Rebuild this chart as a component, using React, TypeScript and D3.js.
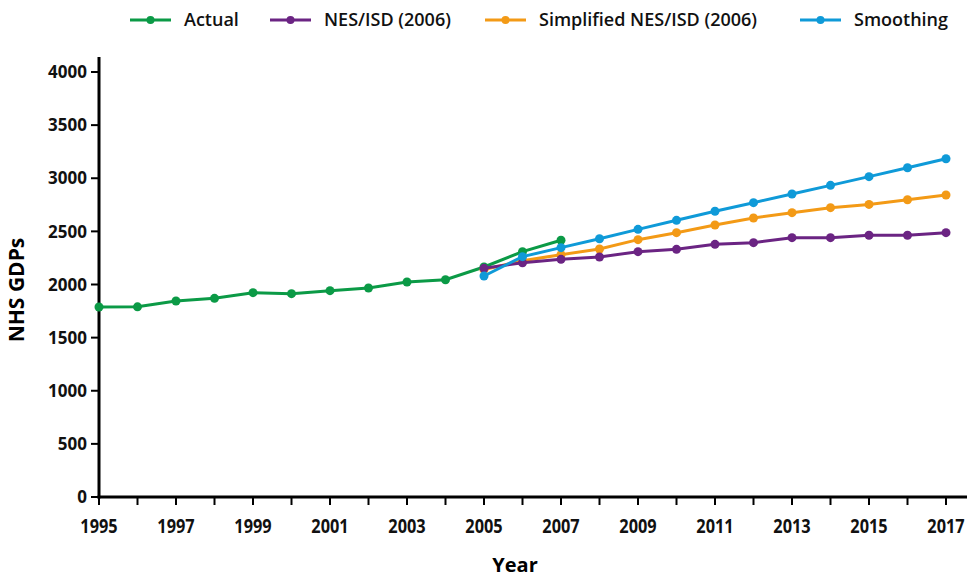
import * as d3 from 'd3'

const actualYears = [1995, 1996, 1997, 1998, 1999, 2000, 2001, 2002, 2003, 2004, 2005, 2006, 2007]
const actualValues = [1788, 1790, 1845, 1870, 1923, 1914, 1942, 1967, 2024, 2045, 2165, 2309, 2416]

const forecastYears = [2005, 2006, 2007, 2008, 2009, 2010, 2011, 2012, 2013, 2014, 2015, 2016, 2017]
const nesValues = [2152, 2205, 2237, 2259, 2309, 2331, 2378, 2394, 2441, 2441, 2463, 2463, 2488]
const simplifiedValues = [2140, 2224, 2281, 2334, 2422, 2488, 2560, 2626, 2676, 2723, 2754, 2798, 2842]
const smoothingValues = [2080, 2262, 2347, 2431, 2519, 2604, 2689, 2770, 2852, 2933, 3015, 3099, 3184]

const yTicks = [0, 500, 1000, 1500, 2000, 2500, 3000, 3500, 4000]
const xLabelYears = [1995, 1997, 1999, 2001, 2003, 2005, 2007, 2009, 2011, 2013, 2015, 2017]

interface Point {
  year: number
  value: number
}

const zip = (years: number[], values: number[]): Point[] =>
  years.map((year, i) => ({ year, value: values[i] }))

// draw order matters: purple sits over orange, blue on top
const series = [
  { name: 'Actual', color: '#0b9a46', data: zip(actualYears, actualValues), legendX: 130 },
  { name: 'Simplified NES/ISD (2006)', color: '#f39a16', data: zip(forecastYears, simplifiedValues), legendX: 485 },
  { name: 'NES/ISD (2006)', color: '#6b2483', data: zip(forecastYears, nesValues), legendX: 270 },
  { name: 'Smoothing', color: '#0f9ad8', data: zip(forecastYears, smoothingValues), legendX: 800 },
]

const legendOrder = ['Actual', 'NES/ISD (2006)', 'Simplified NES/ISD (2006)', 'Smoothing']

const W = 971
const H = 578
const sans = '"Open Sans", "DejaVu Sans", sans-serif'

export default function App() {
  const x = d3.scaleLinear().domain([1995, 2017]).range([99, 946])
  const y = d3.scaleLinear().domain([0, 4000]).range([497, 72])
  const line = d3
    .line<Point>()
    .x(d => x(d.year))
    .y(d => y(d.value))

  const allYears = d3.range(1995, 2018)

  return (
    <div style={{ position: 'absolute', left: 0, top: 0 }}>
      <svg width={W} height={H} style={{ display: 'block', background: '#fff' }}>
        {/* legend */}
        {legendOrder.map(name => {
          const s = series.find(d => d.name === name)!
          return (
            <g key={name} transform={`translate(${s.legendX},20)`}>
              <line x2={41} stroke={s.color} strokeWidth={3} />
              <circle cx={20.5} r={4} fill={s.color} />
              <text
                x={54}
                dy="0.35em"
                fontFamily={sans}
                fontWeight={600}
                fontSize={18}
                fill="#111"
              >
                {s.name}
              </text>
            </g>
          )
        })}

        {/* y axis */}
        <line x1={99} x2={99} y1={57} y2={498.5} stroke="#000" strokeWidth={3} />
        {yTicks.map(t => (
          <g key={t} transform={`translate(0,${y(t)})`}>
            <line x1={91} x2={99} stroke="#000" strokeWidth={2} />
            <text
              x={87}
              dy="0.36em"
              textAnchor="end"
              fontFamily={sans}
              fontWeight={700}
              fontSize={17}
              fill="#111"
            >
              {t}
            </text>
          </g>
        ))}

        {/* x axis */}
        <line x1={97.5} x2={967} y1={497} y2={497} stroke="#000" strokeWidth={3} />
        {allYears.map(yr => (
          <line
            key={yr}
            x1={x(yr)}
            x2={x(yr)}
            y1={497}
            y2={505}
            stroke="#000"
            strokeWidth={2}
          />
        ))}
        {xLabelYears.map(yr => (
          <text
            key={yr}
            transform={`translate(${x(yr)},533) scale(0.86,1)`}
            textAnchor="middle"
            fontFamily={sans}
            fontWeight={700}
            fontSize={19}
            fill="#111"
          >
            {yr}
          </text>
        ))}

        {/* axis titles */}
        <text
          x={515}
          y={572}
          textAnchor="middle"
          fontFamily={sans}
          fontWeight={700}
          fontSize={20}
          fill="#000"
        >
          Year
        </text>
        <text
          transform="translate(24,290) rotate(-90)"
          textAnchor="middle"
          fontFamily={sans}
          fontWeight={700}
          fontSize={21}
          fill="#000"
        >
          NHS GDPs
        </text>

        {/* series */}
        {series.map(s => (
          <g key={s.name}>
            <path d={line(s.data) ?? ''} fill="none" stroke={s.color} strokeWidth={3} />
            {s.data.map(p => (
              <circle key={p.year} cx={x(p.year)} cy={y(p.value)} r={4.5} fill={s.color} />
            ))}
          </g>
        ))}
      </svg>
    </div>
  )
}
